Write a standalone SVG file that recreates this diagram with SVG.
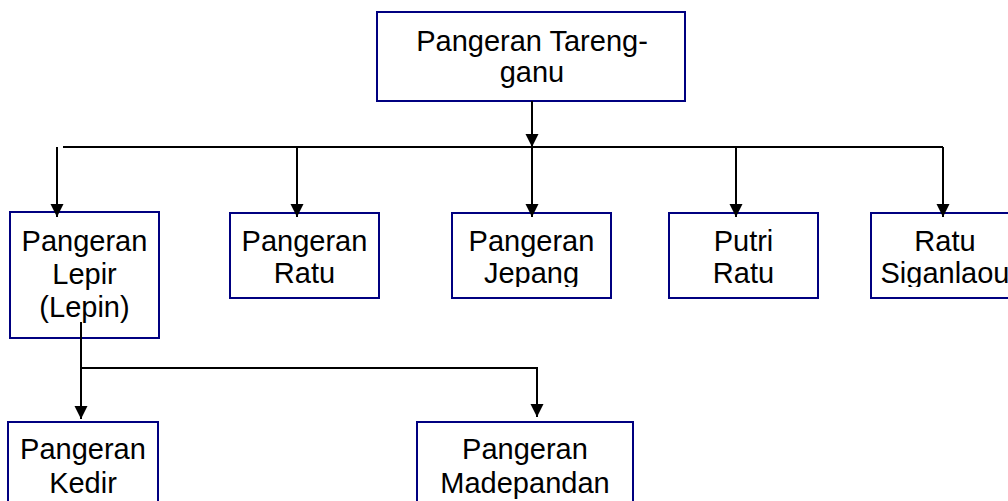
<svg xmlns="http://www.w3.org/2000/svg" width="1008" height="501" viewBox="0 0 1008 501">
<style>
.box{fill:#fff;stroke:#000080;stroke-width:2}
.t{font-family:"Liberation Sans",Arial,sans-serif;font-size:29px;fill:#000;text-anchor:middle}
.c{fill:none;stroke:#000;stroke-width:2}
</style>
<defs>
<marker id="ah" markerUnits="userSpaceOnUse" markerWidth="14" markerHeight="14" refX="13" refY="6.5" orient="auto">
<path d="M0,0 L13,6.5 L0,13 z" fill="#000"/>
</marker>
<clipPath id="clipJ"><rect x="452" y="213" width="159" height="74"/></clipPath>
<clipPath id="clipS"><rect x="871" y="213" width="150" height="74"/></clipPath>
</defs>
<rect width="1008" height="501" fill="#fff"/>
<g id="n-tarenggganu">
<rect class="box" x="377" y="12" width="308" height="89"/>
<text class="t" x="532" y="51">Pangeran Tareng-</text>
<text class="t" x="532" y="82">ganu</text>
</g>
<g id="n-lepir">
<rect class="box" x="10" y="212" width="149" height="126"/>
<text class="t" x="84.5" y="251">Pangeran</text>
<text class="t" x="84.5" y="284">Lepir</text>
<text class="t" x="84.5" y="317">(Lepin)</text>
</g>
<g id="n-ratu">
<rect class="box" x="230" y="213" width="149" height="85"/>
<text class="t" x="304.5" y="251">Pangeran</text>
<text class="t" x="304.5" y="283">Ratu</text>
</g>
<g id="n-jepang">
<rect class="box" x="452" y="213" width="159" height="85"/>
<g clip-path="url(#clipJ)">
<text class="t" x="531.5" y="251">Pangeran</text>
<text class="t" x="531.5" y="283">Jepang</text>
</g>
</g>
<g id="n-putri">
<rect class="box" x="669" y="213" width="149" height="85"/>
<text class="t" x="743.5" y="251">Putri</text>
<text class="t" x="743.5" y="283">Ratu</text>
</g>
<g id="n-siganlaou">
<rect class="box" x="871" y="213" width="150" height="85"/>
<g clip-path="url(#clipS)">
<text class="t" x="945" y="251">Ratu</text>
<text class="t" x="945" y="283">Siganlaou</text>
</g>
</g>
<g id="n-kedir">
<rect class="box" x="8" y="422" width="150" height="90"/>
<text class="t" x="83" y="459">Pangeran</text>
<text class="t" x="83" y="493">Kedir</text>
</g>
<g id="n-madepandan">
<rect class="box" x="417" y="422" width="216" height="90"/>
<text class="t" x="525" y="459">Pangeran</text>
<text class="t" x="525" y="493">Madepandan</text>
</g>
<g id="connectors">
<path class="c" d="M532,101 V147" marker-end="url(#ah)"/>
<path class="c" d="M532,147 V217" marker-end="url(#ah)"/>
<path class="c" d="M63,147 H943"/>
<path class="c" d="M57,147 V217" marker-end="url(#ah)"/>
<path class="c" d="M297,147 V217" marker-end="url(#ah)"/>
<path class="c" d="M736,147 V217" marker-end="url(#ah)"/>
<path class="c" d="M943,147 V217" marker-end="url(#ah)"/>
<path class="c" d="M81,322 V419" marker-end="url(#ah)"/>
<path class="c" d="M81,368 H537 V417" marker-end="url(#ah)"/>
</g>
</svg>
